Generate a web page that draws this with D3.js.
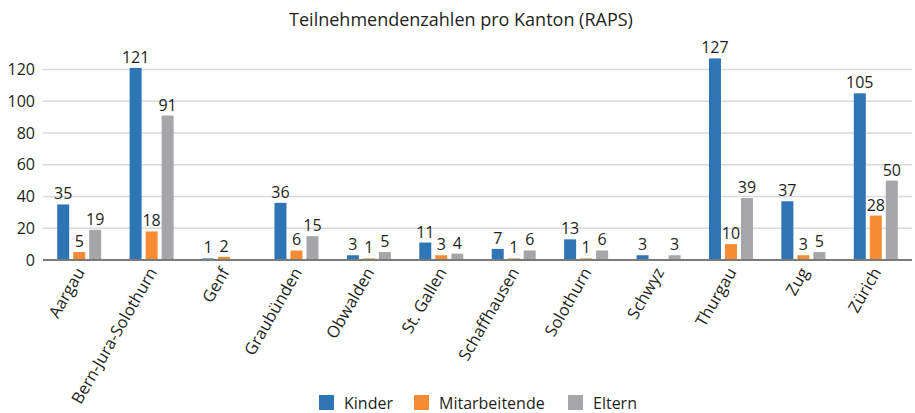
<!DOCTYPE html>
<html>
<head>
<meta charset="utf-8">
<script src="https://cdn.jsdelivr.net/npm/d3@7"></script>
<style>
  body { margin: 0; background: #fff; }
  text { font-family: "Open Sans", "Noto Sans", sans-serif; fill: #231f20; }
</style>
</head>
<body>
<svg id="chart" width="915" height="413"></svg>
<script>
// data
var kantone = ["Aargau", "Bern-Jura-Solothurn", "Genf", "Graubünden", "Obwalden", "St. Gallen",
               "Schaffhausen", "Solothurn", "Schwyz", "Thurgau", "Zug", "Zürich"];
var kinder = [35, 121, 1, 36, 3, 11, 7, 13, 3, 127, 37, 105];
var mitarbeitende = [5, 18, 2, 6, 1, 3, 1, 1, null, 10, 3, 28];
var eltern = [19, 91, null, 15, 5, 4, 6, 6, 3, 39, 5, 50];
var yTicks = [0, 20, 40, 60, 80, 100, 120];

var seriesNames = ["Kinder", "Mitarbeitende", "Eltern"];
var seriesColors = ["#2e75b6", "#f58b32", "#a6a6a9"];
var seriesValues = [kinder, mitarbeitende, eltern];

const svg = d3.select("#chart"),
    margin = {top: 69.5, right: 3, bottom: 153, left: 43},
    width = +svg.attr("width"),
    height = +svg.attr("height");

// y: 0 sits at 260, 120 at 69.5
const y = d3.scaleLinear()
    .domain([0, 120])
    .range([260, 69.5]);

const x0 = d3.scaleBand()
    .domain(kantone)
    .range([margin.left, width - margin.right])
    .paddingInner(0)
    .paddingOuter(0);

const x1 = d3.scaleBand()
    .domain(seriesNames)
    .range([x0.bandwidth() / 2 - 22, x0.bandwidth() / 2 + 22])
    .paddingInner(0.25);

// title
svg.append("text")
    .attr("x", 461)
    .attr("y", 26)
    .style("text-anchor", "middle")
    .style("font-size", "18px")
    .text("Teilnehmendenzahlen pro Kanton (RAPS)");

// gridlines
svg.append("g")
    .selectAll("line")
    .data(yTicks.filter(function (d) { return d > 0; }))
    .enter().append("line")
    .attr("x1", margin.left)
    .attr("x2", width - margin.right)
    .attr("y1", function (d) { return y(d); })
    .attr("y2", function (d) { return y(d); })
    .attr("stroke", "#d9d9d9")
    .attr("stroke-width", 1.3);

// y tick labels
svg.append("g")
    .selectAll("text")
    .data(yTicks)
    .enter().append("text")
    .attr("x", 35)
    .attr("y", function (d) { return y(d); })
    .attr("dy", "0.35em")
    .style("text-anchor", "end")
    .style("font-size", "16px")
    .text(function (d) { return d; });

// bars
var groups = svg.append("g")
    .selectAll("g")
    .data(kantone)
    .enter().append("g")
    .attr("transform", function (d) { return "translate(" + x0(d) + ",0)"; });

groups.each(function (k, i) {
    var g = d3.select(this);
    seriesNames.forEach(function (s, j) {
        var v = seriesValues[j][i];
        if (v === null) return;
        g.append("rect")
            .attr("x", x1(s))
            .attr("y", y(v))
            .attr("width", x1.bandwidth())
            .attr("height", y(0) - y(v))
            .attr("fill", seriesColors[j]);
        g.append("text")
            .attr("x", x1(s) + x1.bandwidth() / 2)
            .attr("y", y(v) - 5)
            .style("text-anchor", "middle")
            .style("font-size", "16px")
            .text(v);
    });
});

// baseline
svg.append("line")
    .attr("x1", margin.left)
    .attr("x2", width - margin.right)
    .attr("y1", y(0))
    .attr("y2", y(0))
    .attr("stroke", "#7a7a7a")
    .attr("stroke-width", 2);

// category labels, rotated
svg.append("g")
    .selectAll("text")
    .data(kantone)
    .enter().append("text")
    .attr("transform", function (d) {
        return "translate(" + (x0(d) + x0.bandwidth() / 2 + 6) + ",272) rotate(-60)";
    })
    .style("text-anchor", "end")
    .style("font-size", "16.5px")
    .text(function (d) { return d; });

// legend
var legendX = [319, 414, 568];
var legend = svg.append("g")
    .selectAll("g")
    .data(seriesNames)
    .enter().append("g")
    .attr("transform", function (d, i) { return "translate(" + legendX[i] + ",395)"; });

legend.append("rect")
    .attr("width", 15)
    .attr("height", 15)
    .attr("fill", function (d, i) { return seriesColors[i]; });

legend.append("text")
    .attr("x", 25)
    .attr("y", 13.5)
    .style("font-size", "16px")
    .text(function (d) { return d; });
</script>
</body>
</html>
